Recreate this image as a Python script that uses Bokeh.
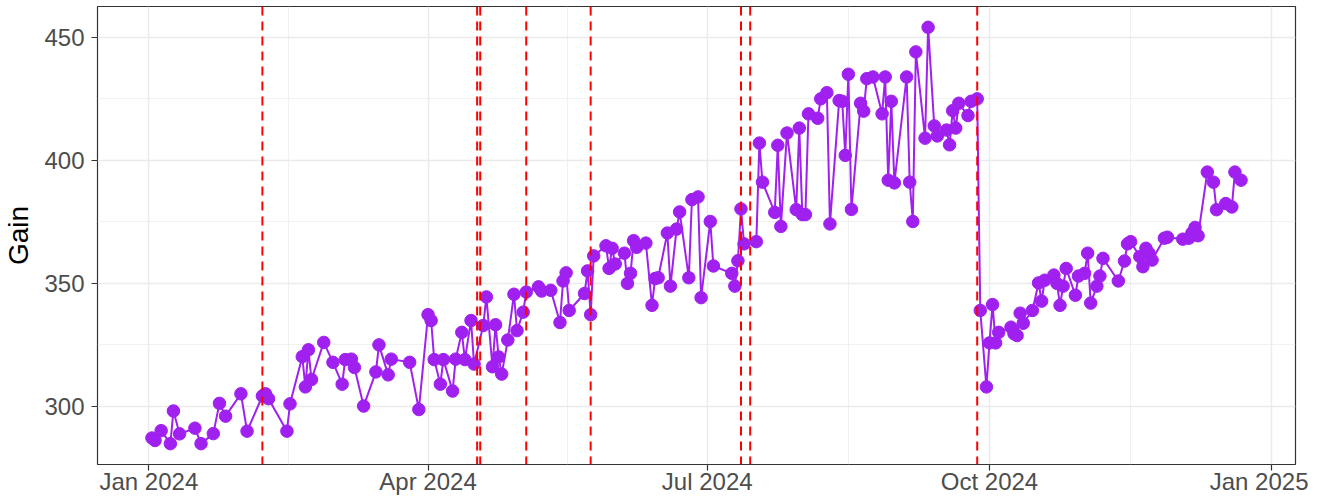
import pandas as pd
from bokeh.plotting import figure
from bokeh.models import (Range1d, FixedTicker, DatetimeTickFormatter, Span,
                          ColumnDataSource)
from bokeh.embed import file_html
from bokeh.resources import INLINE

# ---------------- data ----------------
start_date = "2024-01-01"
day_offset = [1, 2, 4, 7, 8, 10, 15, 17, 21, 23,
              25, 30, 32, 37, 38, 39, 45, 46, 50, 51,
              52, 53, 57, 60, 63, 64, 66, 67, 70, 74,
              75, 78, 79, 85, 88, 91, 92, 93, 95, 96,
              99, 100, 102, 103, 105, 106, 109, 110, 112, 113,
              114, 115, 117, 119, 120, 122, 123, 127, 128, 131,
              134, 135, 136, 137, 142, 143, 144, 145, 149, 150,
              151, 152, 155, 156, 157, 158, 159, 162, 164, 165,
              166, 169, 170, 172, 173, 176, 177, 179, 180, 183,
              184, 190, 191, 192, 193, 194, 198, 199, 200, 204,
              205, 206, 208, 211, 212, 213, 214, 215, 218, 219,
              221, 222, 225, 226, 227, 228, 229, 232, 233, 234,
              236, 239, 240, 241, 242, 243, 247, 248, 249, 250,
              253, 254, 256, 257, 260, 261, 262, 263, 264, 267,
              268, 270, 271, 273, 274, 275, 276, 277, 281, 282,
              283, 284, 285, 288, 290, 291, 292, 295, 296, 297,
              298, 299, 302, 303, 305, 306, 307, 309, 310, 311,
              316, 318, 319, 320, 323, 324, 325, 326, 327, 331,
              332, 337, 339, 340, 341, 342, 345, 347, 348, 351,
              353, 354, 356]
gain = [287.0, 286.0, 290.0, 284.7, 298.0, 288.7, 291.0, 284.7, 288.8, 301.1,
        295.9, 305.0, 289.8, 304.1, 305.0, 303.0, 289.8, 300.9, 320.1, 307.8,
        322.9, 310.8, 325.9, 317.8, 308.9, 318.9, 319.1, 315.7, 300.0, 313.9,
        324.9, 312.7, 319.1, 317.8, 298.6, 337.2, 334.8, 318.9, 308.9, 318.9,
        306.1, 319.1, 330.0, 318.9, 334.8, 317.1, 332.8, 344.4, 316.0, 333.1,
        320.0, 313.0, 326.9, 345.5, 330.7, 338.2, 346.4, 348.5, 346.8, 347.1,
        334.0, 350.9, 354.2, 338.9, 345.8, 355.0, 337.2, 361.1, 365.2, 356.0,
        364.2, 357.8, 362.2, 349.9, 354.0, 367.3, 364.6, 366.3, 341.0, 351.9,
        352.2, 370.4, 348.8, 372.0, 379.0, 352.2, 384.0, 385.1, 344.1, 375.1,
        357.0, 354.0, 348.8, 359.1, 380.2, 366.0, 366.9, 407.0, 391.1, 378.8,
        406.1, 373.1, 411.1, 379.9, 413.1, 377.9, 377.9, 418.9, 417.1, 425.0,
        427.5, 374.1, 424.3, 424.0, 402.0, 435.0, 380.0, 423.2, 420.0, 433.2,
        433.9, 418.9, 433.9, 391.9, 424.0, 390.8, 433.9, 391.1, 375.1, 444.1,
        409.0, 454.1, 414.0, 409.9, 412.3, 406.3, 420.2, 413.1, 423.2, 418.2,
        424.0, 425.0, 338.9, 307.8, 325.7, 341.3, 325.7, 330.0, 332.1, 329.4,
        328.7, 337.8, 333.7, 338.9, 350.1, 342.7, 351.2, 353.3, 349.9, 341.0,
        348.8, 356.0, 345.1, 352.9, 354.0, 362.2, 341.9, 348.8, 352.9, 360.1,
        350.9, 359.0, 366.0, 366.9, 360.8, 356.7, 364.2, 362.2, 359.4, 368.3,
        368.7, 367.9, 368.3, 370.4, 372.7, 369.3, 395.2, 391.1, 379.9, 382.4,
        381.0, 395.2, 391.9]
event_dates = ["2024-02-07", "2024-04-17", "2024-04-18", "2024-05-03",
               "2024-05-24", "2024-07-12", "2024-07-15", "2024-09-27"]
x_tick_dates = ["2024-01-01", "2024-04-01", "2024-07-01", "2024-10-01", "2025-01-01"]
x_minor_dates = ["2024-02-15 12:00", "2024-05-16 12:00", "2024-08-16", "2024-11-16"]
y_ticks = [300, 350, 400, 450]
y_minor_ticks = [325, 375, 425]
y_label = "Gain"


def ms(d):
    return pd.Timestamp(d).value / 1e6


dates = pd.Timestamp(start_date) + pd.to_timedelta(day_offset, unit="D")
src = ColumnDataSource(data=dict(date=dates, gain=gain))

# ggplot-like 5% expansion
xmin, xmax = ms(dates.min()), ms(dates.max())
xpad = 0.05 * (xmax - xmin)
ymin, ymax = min(gain), max(gain)
ypad = 0.05 * (ymax - ymin)

FONT = "Liberation Sans"
PURPLE = "#A020F0"

p = figure(width=1308, height=497, x_axis_type="datetime",
           output_backend="svg", toolbar_location=None,
           x_range=Range1d(xmin - xpad, xmax + xpad),
           y_range=Range1d(ymin - ypad, ymax + ypad),
           min_border_left=94, min_border_right=13,
           min_border_top=6, min_border_bottom=0,
           background_fill_color="white", border_fill_color="white")

p.line(x="date", y="gain", source=src, line_color=PURPLE, line_width=2)
p.scatter(x="date", y="gain", source=src, size=12.5,
          fill_color=PURPLE, line_color=PURPLE)

for d in event_dates:
    p.add_layout(Span(location=ms(d), dimension="height", line_color="#FF0000",
                      line_width=2, line_dash="9 6"))

xt = FixedTicker(ticks=[ms(d) for d in x_tick_dates],
                 minor_ticks=[ms(d) for d in x_minor_dates])
yt = FixedTicker(ticks=y_ticks, minor_ticks=y_minor_ticks)
p.xaxis.ticker = xt
p.yaxis.ticker = yt
p.xgrid.ticker = xt
p.ygrid.ticker = yt

fmt = "%b %Y"
p.xaxis.formatter = DatetimeTickFormatter(
    milliseconds=fmt, seconds=fmt, minsec=fmt, minutes=fmt, hourmin=fmt,
    hours=fmt, days=fmt, months=fmt, years=fmt)

for ax in (p.xaxis[0], p.yaxis[0]):
    ax.axis_line_color = None
    ax.major_tick_line_color = "#333333"
    ax.major_tick_line_width = 1.2
    ax.major_tick_in = 0
    ax.major_tick_out = 6
    ax.minor_tick_line_color = None
    ax.major_label_text_color = "#4D4D4D"
    ax.major_label_text_font = FONT
    ax.major_label_text_font_size = "24px"

p.xaxis.major_label_standoff = -3
p.yaxis.major_label_standoff = 7
p.yaxis.axis_label = y_label
p.yaxis.axis_label_text_font = FONT
p.yaxis.axis_label_text_font_size = "28px"
p.yaxis.axis_label_text_font_style = "normal"
p.yaxis.axis_label_text_color = "#000000"
p.yaxis.axis_label_standoff = 7

for g in (p.xgrid, p.ygrid):
    g.grid_line_color = "#EBEBEB"
    g.grid_line_width = 1.4
    g.minor_grid_line_color = "#EBEBEB"
    g.minor_grid_line_width = 0.7

p.outline_line_color = "#333333"
p.outline_line_width = 1.2

open("out.html", "w").write(file_html(p, INLINE))
